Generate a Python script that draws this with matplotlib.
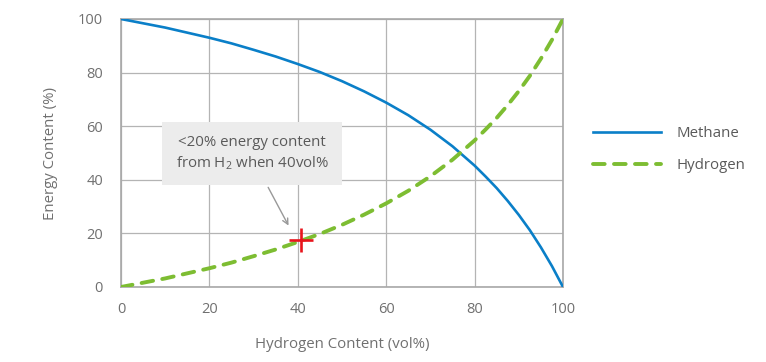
import matplotlib
matplotlib.use('Agg')
import matplotlib.pyplot as plt
from matplotlib.patches import Rectangle

# values
h2_vol = [0, 5, 10, 15, 20, 25, 30, 35, 40, 45, 50, 55, 60, 65, 70, 75, 80,
          82.5, 85, 87.5, 90, 92.5, 95, 97.5, 100]
methane = [100, 98.4, 96.8, 94.9, 93.0, 90.9, 88.5, 86.0, 83.2, 80.2, 76.8, 73.0, 68.8,
           64.1, 58.7, 52.5, 45.3, 41.2, 36.9, 32.1, 26.9, 21.2, 14.8, 7.8, 0]
hydrogen = [0, 1.6, 3.2, 5.1, 7.0, 9.1, 11.5, 14.0, 16.8, 19.8, 23.2, 27.0, 31.2,
            35.9, 41.3, 47.5, 54.7, 58.8, 63.1, 67.9, 73.1, 78.8, 85.2, 92.2, 100]
ticks = [0, 20, 40, 60, 80, 100]
marker_pt = (40.7, 17.5)
note = '<20% energy content\nfrom H$_2$ when 40vol%'

plt.rcParams['font.family'] = ['Open Sans', 'DejaVu Sans']
plt.rcParams['mathtext.fontset'] = 'custom'
plt.rcParams['mathtext.rm'] = 'Open Sans'

txt_col = '#707070'
grid_col = '#b4b4b4'

fig = plt.figure(figsize=(7.66, 3.62), dpi=100)
ax = fig.add_axes([121/766, 75/362, 442/766, 268/362])

ax.plot(h2_vol, methane, color='#0a7fc8', linewidth=1.9, label='Methane', zorder=3)
ax.plot(h2_vol, hydrogen, color='#7dbd32', linewidth=2.8, label='Hydrogen',
        dashes=(3.0, 2.4), dash_capstyle='round', zorder=3)

ax.set_xlim(0, 100)
ax.set_ylim(0, 100)
ax.set_xticks(ticks)
ax.set_yticks(ticks)
ax.grid(True, color=grid_col, linewidth=0.9)
ax.set_axisbelow(True)
for s in ax.spines.values():
    s.set_color('#a8a8a8')
    s.set_linewidth(1.2)
ax.tick_params(length=0, labelsize=10.5, labelcolor=txt_col)
ax.tick_params(axis='x', pad=11)
ax.tick_params(axis='y', pad=13)
ax.set_xlabel('Hydrogen Content (vol%)', fontsize=10.8, color=txt_col, labelpad=14)
ax.set_ylabel('Energy Content (%)', fontsize=10.8, color=txt_col, labelpad=14)

# callout box
ax.add_patch(Rectangle((9.3, 38.1), 40.7, 23.5, facecolor='#ececec', edgecolor='none',
                       zorder=4))
ax.text(29.65, 49.9, note, ha='center', va='center', fontsize=10.8, color='#5a5a5a',
        linespacing=1.3, zorder=5)
ax.annotate('', xy=(38.2, 22.0), xytext=(33.0, 38.1),
            arrowprops=dict(arrowstyle='->', color='#999999', lw=1.0), zorder=4)
ax.plot(*marker_pt, marker='+', color='#e8141c', markersize=17, mew=1.9, zorder=6)

fig.legend(loc='upper left', bbox_to_anchor=(593/766, (362-126)/362), frameon=False,
           fontsize=10.8, labelcolor='#5a5a5a', handlelength=4.5, handletextpad=1.1,
           labelspacing=1.15, borderpad=0, borderaxespad=0)

fig.savefig('out.png', dpi=100)
